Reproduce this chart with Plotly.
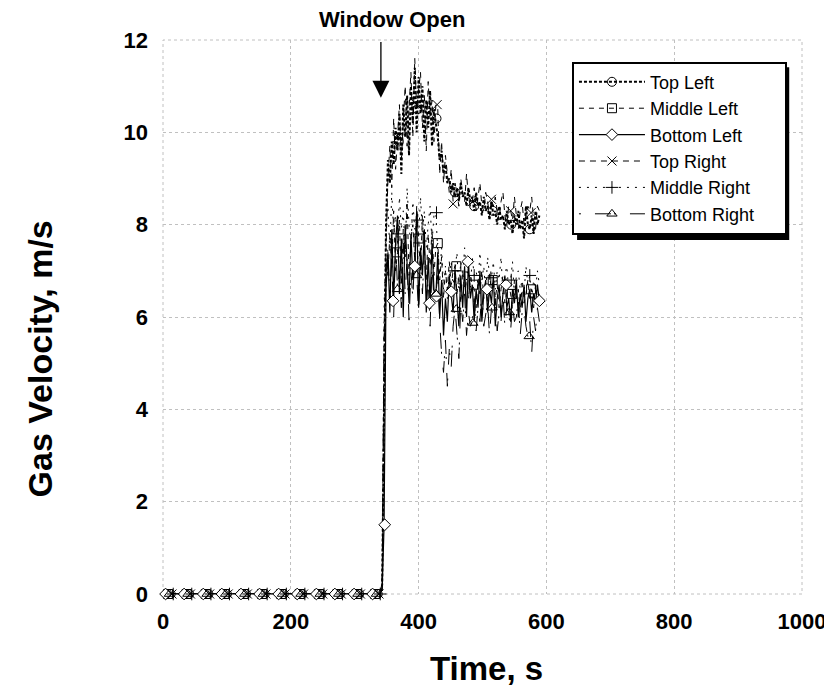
import plotly.graph_objects as go

# ---------------- data ----------------
# sampling grid: pre-opening baseline, then 3 s samples after the window opens
time_s = [0, 340] + list(range(343, 590, 3))

top_left = [0, 0,
    0.2, 4.5, 8.0, 9.4, 8.9, 9.8, 9.3, 10.1, 9.6, 10.4, 9.1, 10.6, 9.9, 10.8, 9.5, 11.0,
    10.2, 11.4, 10.0, 11.2, 10.4, 11.0, 9.8, 10.7, 10.1, 10.9, 9.7, 10.5, 10.2, 9.9,
    9.4, 9.6, 9.1, 9.3, 8.9, 9.0, 8.7, 8.9, 8.6, 8.8, 8.5, 8.9, 8.6, 8.7, 8.4, 8.8,
    8.5, 8.6, 8.3, 8.7, 8.4, 8.5, 8.2, 8.6, 8.3, 8.4, 8.1, 8.5, 8.2, 8.3, 8.0, 8.4,
    8.1, 8.2, 7.9, 8.3, 8.0, 8.1, 7.8, 8.2, 8.0, 8.3, 7.9, 8.1, 7.7, 8.4, 8.0, 7.9,
    8.2, 7.8, 8.3, 8.0, 8.2]
middle_left = [0, 0,
    0.3, 5.8, 7.2, 6.9, 7.8, 7.1, 8.3, 7.0, 7.4, 8.1, 6.7, 7.9, 7.3, 8.5, 6.9, 7.7,
    8.0, 7.2, 8.4, 7.6, 7.0, 8.2, 7.4, 6.8, 7.8, 7.1, 7.9, 6.9, 7.5, 7.6, 6.8, 7.3,
    6.4, 7.0, 6.6, 7.2, 6.7, 7.0, 7.1, 6.5, 6.9, 6.3, 7.0, 6.6, 6.8, 6.4, 6.9, 6.7,
    6.6, 6.2, 6.8, 6.5, 7.0, 6.4, 6.7, 6.3, 6.9, 6.6, 6.8, 6.4, 6.7, 6.2, 6.6, 6.9,
    6.3, 6.5, 6.7, 6.5, 6.2, 6.8, 6.4, 6.6, 6.1, 6.7, 6.3, 6.5, 6.8, 6.4, 6.6, 6.2,
    6.7, 6.4, 6.5]
bottom_left = [0, 0,
    0.1, 1.5, 6.6, 7.4, 6.1, 7.9, 6.4, 7.6, 8.2, 6.5, 7.7, 6.0, 8.0, 7.2, 6.3, 7.8,
    6.8, 7.1, 8.3, 6.2, 7.5, 6.9, 7.9, 6.1, 7.3, 6.3, 7.6, 6.6, 6.45, 7.4, 6.0, 6.8,
    5.6, 6.4, 5.9, 6.9, 6.55, 6.1, 7.0, 6.3, 5.8, 6.9, 6.2, 7.1, 6.0, 7.2, 6.4, 6.7,
    5.9, 6.6, 6.2, 7.0, 5.9, 6.5, 6.8, 6.1, 6.6, 6.3, 6.9, 5.8, 6.4, 6.7, 6.0, 6.5,
    6.9, 6.2, 6.4, 5.9, 6.6, 6.3, 6.8, 6.0, 6.5, 6.2, 6.7, 5.9, 6.4, 6.6, 6.1, 6.5,
    6.3, 6.7, 6.35]
top_right = [0, 0,
    0.1, 3.2, 7.5, 9.0, 9.7, 8.8, 10.3, 9.2, 9.9, 10.6, 9.4, 10.1, 11.0, 9.7, 10.4, 11.3,
    9.9, 11.6, 10.5, 10.9, 11.3, 10.1, 10.8, 9.6, 11.1, 10.3, 10.7, 9.8, 10.6, 10.5,
    9.1, 9.8, 8.9, 9.5, 9.1, 8.7, 9.2, 8.5, 8.9, 8.7, 8.4, 9.0, 8.7, 8.5, 9.1, 8.6,
    8.4, 8.5, 8.8, 8.3, 8.6, 8.9, 8.4, 8.3, 8.7, 8.5, 8.2, 8.55, 8.4, 8.6, 8.3, 8.1,
    8.5, 8.7, 8.2, 8.0, 8.4, 8.3, 8.1, 8.6, 8.2, 7.9, 8.3, 8.5, 8.0, 8.2, 8.4, 8.3,
    8.6, 8.1, 7.9, 8.4, 8.3]
middle_right = [0, 0,
    0.2, 6.2, 7.9, 8.4, 7.4, 8.7, 7.8, 8.2, 7.6, 8.6, 7.9, 8.3, 7.4, 8.8, 8.0, 7.5,
    8.5, 7.9, 8.1, 7.7, 8.6, 7.8, 8.3, 7.5, 8.0, 8.4, 7.6, 8.2, 8.26, 7.4, 6.9, 7.5,
    6.6, 7.1, 6.4, 6.9, 7.2, 6.7, 7.0, 7.4, 6.6, 7.2, 6.9, 7.5, 6.8, 7.1, 6.6, 7.3,
    6.9, 7.0, 6.7, 7.4, 6.8, 7.1, 6.5, 7.3, 6.9, 6.85, 7.2, 6.6, 7.0, 6.8, 7.3, 6.5,
    6.9, 7.1, 6.6, 6.8, 7.2, 6.4, 6.9, 7.0, 6.6, 6.8, 6.5, 7.1, 6.7, 6.9, 6.4, 6.8,
    6.6, 7.0, 6.7]
bottom_right = [0, 0,
    0.1, 5.5, 6.8, 7.5, 6.3, 7.2, 6.0, 7.7, 6.6, 7.0, 6.2, 7.6, 6.5, 7.3, 5.9, 7.0,
    6.4, 7.4, 6.9, 6.1, 7.2, 6.5, 7.5, 6.3, 6.8, 5.8, 7.1, 6.4, 6.5, 6.9, 5.9, 5.2,
    4.8, 5.5, 4.5, 5.3, 4.9, 5.8, 6.2, 5.7, 5.1, 6.3, 5.9, 6.5, 5.6, 6.1, 5.8, 5.9,
    6.4, 5.7, 6.2, 5.9, 6.6, 5.8, 6.1, 6.3, 5.6, 6.2, 6.0, 6.4, 5.7, 6.1, 5.9, 6.5,
    5.8, 6.2, 6.1, 5.7, 6.3, 5.9, 6.0, 6.4, 5.6, 6.1, 6.2, 5.8, 5.58, 5.9, 5.2, 6.0,
    5.7, 6.2, 5.9]

# marker positions (time, value) for each series
top_left_mk_t = [12, 41, 71, 100, 130, 159, 189, 218, 248, 277, 307, 336,
                 369, 398, 428, 457, 487, 516, 545, 574]
top_left_mk_v = [0, 0, 0, 0, 0, 0, 0, 0, 0, 0, 0, 0,
                 9.8, 10.5, 10.3, 8.7, 8.4, 8.3, 8.0, 7.9]
middle_left_mk_t = [8, 37, 67, 96, 126, 155, 185, 214, 244, 273, 303, 332,
                    366, 400, 430, 459, 486, 516, 546, 576]
middle_left_mk_v = [0, 0, 0, 0, 0, 0, 0, 0, 0, 0, 0, 0,
                    7.4, 7.7, 7.6, 7.1, 6.7, 6.8, 6.5, 6.6]
bottom_left_mk_t = [4, 33, 63, 92, 122, 151, 181, 210, 240, 269, 299, 328,
                    347, 360, 394, 417, 428, 451, 477, 507, 537, 589]
bottom_left_mk_v = [0, 0, 0, 0, 0, 0, 0, 0, 0, 0, 0, 0,
                    1.5, 6.35, 7.1, 6.3, 6.45, 6.55, 7.2, 6.6, 6.7, 6.35]
top_right_mk_t = [14, 43, 73, 102, 132, 161, 191, 220, 250, 279, 309, 338,
                  368, 397, 429, 454, 484, 514, 544, 576]
top_right_mk_v = [0, 0, 0, 0, 0, 0, 0, 0, 0, 0, 0, 0,
                  9.9, 10.6, 10.6, 8.45, 8.5, 8.55, 8.3, 8.26]
middle_right_mk_t = [16, 45, 75, 104, 134, 163, 193, 222, 252, 281, 311, 340,
                     368, 398, 428, 457, 487, 513, 545, 574]
middle_right_mk_v = [0, 0, 0, 0, 0, 0, 0, 0, 0, 0, 0, 0,
                     7.8, 8.1, 8.26, 7.0, 6.9, 6.85, 6.8, 6.9]
bottom_right_mk_t = [10, 39, 69, 98, 128, 157, 187, 216, 246, 275, 305, 334,
                     367, 397, 427, 459, 485, 515, 542, 573]
bottom_right_mk_v = [0, 0, 0, 0, 0, 0, 0, 0, 0, 0, 0, 0,
                     6.6, 6.9, 6.5, 6.17, 5.87, 6.2, 6.1, 5.58]

x_ticks = [0, 200, 400, 600, 800, 1000]
y_ticks = [0, 2, 4, 6, 8, 10, 12]

# ---------------- styles ----------------
FONT = "Arial, Liberation Sans, sans-serif"
series = [
    ("Top Left", top_left, top_left_mk_t, top_left_mk_v,
     dict(color="black", width=2, dash="3px,2px"), "circle-open", "black"),
    ("Middle Left", middle_left, middle_left_mk_t, middle_left_mk_v,
     dict(color="black", width=1, dash="5px,5px"), "square-open", "black"),
    ("Bottom Left", bottom_left, bottom_left_mk_t, bottom_left_mk_v,
     dict(color="black", width=1.2), "diamond", "white"),
    ("Top Right", top_right, top_right_mk_t, top_right_mk_v,
     dict(color="black", width=1, dash="6px,5px"), "x-thin-open", "black"),
    ("Middle Right", middle_right, middle_right_mk_t, middle_right_mk_v,
     dict(color="black", width=1, dash="2px,6px"), "cross-thin-open", "black"),
    ("Bottom Right", bottom_right, bottom_right_mk_t, bottom_right_mk_v,
     dict(color="black", width=1, dash="2px,14px,16px,3px"), "triangle-up-open", "black"),
]

fig = go.Figure()
for name, vals, mt, mv, line, sym, col in series:
    fig.add_trace(go.Scatter(x=time_s, y=vals, mode="lines", line=line,
                             showlegend=False, cliponaxis=False, hoverinfo="skip"))
for name, vals, mt, mv, line, sym, col in series:
    fig.add_trace(go.Scatter(x=mt, y=mv, mode="markers", showlegend=False,
                             cliponaxis=False,
                             marker=dict(symbol=sym, size=9, color=col,
                                         line=dict(color="black", width=1))))
# legend entries
for name, vals, mt, mv, line, sym, col in series:
    fig.add_trace(go.Scatter(x=[None], y=[None], mode="lines+markers",
                             name=name + ("\u00a0" * 5 if name == "Bottom Right" else ""),
                             line=line,
                             marker=dict(symbol=sym, size=9, color=col,
                                         line=dict(color="black", width=1))))

axis_common = dict(showgrid=True, gridcolor="#c0c0c0", griddash="3px,3px", gridwidth=1,
                   zeroline=False, showline=False, ticks="", automargin=False,
                   tickfont=dict(family=FONT, size=22, color="black", weight="bold"))

fig.update_layout(
    width=824, height=683,
    margin=dict(l=155, r=30, t=32, b=97),
    paper_bgcolor="white", plot_bgcolor="white",
    font=dict(family=FONT, color="black"),
    xaxis=dict(range=[0, 1000], tickvals=x_ticks, ticklabelstandoff=12, **axis_common),
    yaxis=dict(range=[0, 12], tickvals=y_ticks, ticklabelstandoff=14, **axis_common),
    legend=dict(x=0.640, y=0.961, xanchor="left", yanchor="top",
                bgcolor="white", bordercolor="black", borderwidth=2,
                font=dict(family=FONT, size=18, color="black"),
                itemwidth=66, tracegroupgap=0),
    annotations=[
        dict(x=341, y=10.75, ax=341, ay=11.99, xref="x", yref="y", axref="x", ayref="y",
             text="", showarrow=True, arrowhead=2, arrowsize=2.6, arrowwidth=1.3,
             arrowcolor="black"),
        dict(x=359, y=1.037, xref="x", yref="paper", text="<b>Window Open</b>",
             showarrow=False, font=dict(family=FONT, size=22, color="black"),
             xanchor="center", yanchor="middle"),
        dict(x=0.507, y=-0.134, xref="paper", yref="paper", text="<b>Time, s</b>",
             showarrow=False, font=dict(family=FONT, size=33, color="black"),
             xanchor="center", yanchor="middle"),
        dict(x=-0.192, y=0.424, xref="paper", yref="paper", text="<b>Gas Velocity, m/s</b>",
             textangle=-90, showarrow=False, font=dict(family=FONT, size=34, color="black"),
             xanchor="center", yanchor="middle"),
    ],
    shapes=[
        dict(type="rect", xref="paper", yref="paper", x0=0, x1=1, y0=0, y1=1,
             line=dict(color="#c0c0c0", width=1, dash="3px,3px"), layer="below"),
        dict(type="rect", xref="paper", yref="paper", x0=0.648, x1=0.980, y0=0.639, y1=0.951,
             fillcolor="black", line=dict(width=0), layer="above"),
    ],
)

fig.write_html("out.html")
